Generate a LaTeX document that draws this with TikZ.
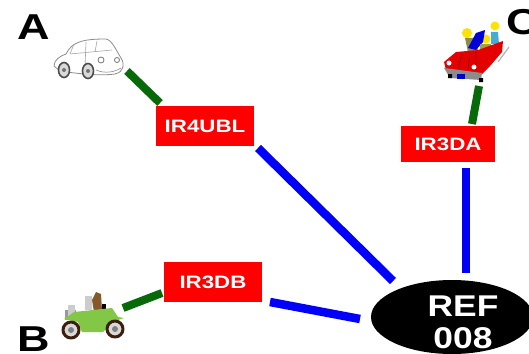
\documentclass[tikz,border=0pt]{standalone}
\usepackage{fontspec}
\usetikzlibrary{shapes.geometric}
\setmainfont{Liberation Sans}
\definecolor{linkgreen}{RGB}{8,105,8}
\definecolor{linkblue}{RGB}{0,0,250}
\definecolor{carbody}{RGB}{130,200,70}
\definecolor{rimbrown}{RGB}{60,30,15}
\begin{document}
\begin{tikzpicture}[x=1pt,y=-1pt,line join=round,
  tag/.style={fill=red,draw=none,inner sep=0pt,text=white,font=\bfseries\fontsize{18}{18}\selectfont},
  greenlink/.style={draw=linkgreen,line width=8pt},
  bluelink/.style={draw=linkblue,line width=8.5pt},
  letter/.style={inner sep=0pt,font=\bfseries\fontsize{36}{36}\selectfont},
  carline/.style={draw=black!45,line width=0.8pt,fill=white}]
\useasboundingbox (0,0) rectangle (529,353);
\clip (0,0) rectangle (529,353);
\fill[white] (0,0) rectangle (529,353);

\node[tag,minimum width=98pt,minimum height=40pt] (ubl) at (205,126) {\scalebox{1.24}[1]{IR4UBL}};
\node[tag,minimum width=94pt,minimum height=36pt] (da) at (448,144) {\scalebox{1.24}[1]{IR3DA}};
\node[tag,minimum width=98pt,minimum height=40pt] (db) at (213,282) {\scalebox{1.24}[1]{IR3DB}};
\node[ellipse,fill=black,minimum width=162pt,minimum height=74pt,inner sep=0pt] (ref) at (452,317) {};
\node[inner sep=0pt,text=white,font=\bfseries\fontsize{30}{30}\selectfont] (reft) at (463,306) {\scalebox{1.18}[1]{REF}};
\node[inner sep=0pt,text=white,font=\bfseries\fontsize{30}{30}\selectfont] (reff) at (463,338) {\scalebox{1.18}[1]{008}};

\node[letter] (la) at (34,27) {\scalebox{1.25}[1]{A}};
\node[letter] (lb) at (34,339) {\scalebox{1.25}[1]{B}};
\node[letter] (lc) at (523,22) {\scalebox{1.25}[1]{C}};

\coordinate (ga1) at (127,71); \coordinate (ga2) at (160,103);
\coordinate (ba1) at (258,148); \coordinate (ba2) at (393,281);
\coordinate (gc1) at (479,86); \coordinate (gc2) at (472,124);
\coordinate (bc1) at (466,168); \coordinate (bc2) at (466,273);
\coordinate (gb1) at (123,308); \coordinate (gb2) at (162,293);
\coordinate (bb1) at (270,302); \coordinate (bb2) at (360,319);
\draw[greenlink] (ga1) -- (ga2);
\draw[bluelink] (ba1) -- (ba2);
\draw[greenlink] (gc1) -- (gc2);
\draw[bluelink] (bc1) -- (bc2);
\draw[greenlink] (gb1) -- (gb2);
\draw[bluelink] (bb1) -- (bb2);

% car A
\draw[carline] (54,66) .. controls (54,60) and (60,56) .. (66,54) .. controls (72,42) and (82,39) .. (106,39)
  .. controls (112,40) and (116,50) .. (121,58) .. controls (125,64) and (124,72) .. (115,74)
  .. controls (100,76) and (80,74) .. (60,71) -- cycle;
\draw[draw=black!35,line width=0.6pt] (70,54) -- (74,44) (86,42) -- (85,68) (70,54) -- (112,50) (97,41) -- (95,52);
\draw[draw=black!70,fill=black!15,line width=1.6pt] (64,70) ellipse (5.5pt and 7.5pt);
\draw[draw=black!70,fill=black!15,line width=1.6pt] (88,71) ellipse (5.5pt and 7.5pt);
\fill[black!55] (64,70) circle (2pt) (88,71) circle (2pt);
\draw[draw=black!55,line width=0.8pt] (101,60) circle (3pt) (117,60) circle (2.5pt);
\draw[draw=black!40,line width=0.7pt] (96,70) .. controls (105,74) and (115,72) .. (121,68);

% car B
\fill[black!40] (65,310) rectangle (76,320);
\fill[black!20] (68,305) rectangle (75,316);
\fill[black!20] (85,296) -- (92,296) -- (92,310) -- (85,310) -- cycle;
\fill[brown!70!black] (92,300) -- (96,292) -- (101,294) -- (102,310) -- (94,312) -- cycle;
\fill[black] (102,304) rectangle (106,311);
\fill[carbody] (74,312) -- (112,308) -- (118,317) -- (124,318) -- (115,321) -- (103,332) -- (82,332) -- (78,322) -- (64,319) -- cycle;
\draw[draw=rimbrown,fill=black!15,line width=3pt] (71,330) circle (8pt);
\draw[draw=rimbrown,fill=black!15,line width=3pt] (115,329) circle (8pt);
\fill[black!50] (71,330) circle (3pt) (115,329) circle (3pt);

% car C
\fill[yellow!85!orange] (467,33) circle (5pt) (495,26) circle (4.5pt) (486,39) circle (4.5pt);
\fill[yellow!50!black] (465,38) -- (473,38) -- (478,50) -- (468,52) -- cycle;
\fill[blue!85!black] (468,48) -- (476,33) -- (485,30) -- (483,42) -- (476,50) -- cycle;
\fill[cyan!70!gray] (491,32) -- (498,32) -- (499,44) -- (491,44) -- cycle;
\fill[yellow!60!black] (480,44) -- (491,44) -- (491,53) -- (480,53) -- cycle;
\draw[black!30,line width=1.2pt] (498,62) -- (509,47);
\fill[red!90!black] (444,62) -- (456,52) -- (478,50) -- (503,41) -- (502,52) -- (490,66) -- (482,74) -- (446,70) -- cycle;
\draw[red!55!black,line width=0.7pt] (462,54) -- (458,68) (470,53) -- (468,70) (476,52) -- (476,70);
\fill[black!45] (444,68) -- (482,73) -- (481,80) -- (450,78) -- cycle;
\fill[white] (449,63) circle (2.5pt) (474,67) circle (2.5pt);
\fill[blue!80!black] (457,74) rectangle (465,79);
\fill[black] (479,78) rectangle (483,82) (448,74) rectangle (452,78);
\end{tikzpicture}
\end{document}
